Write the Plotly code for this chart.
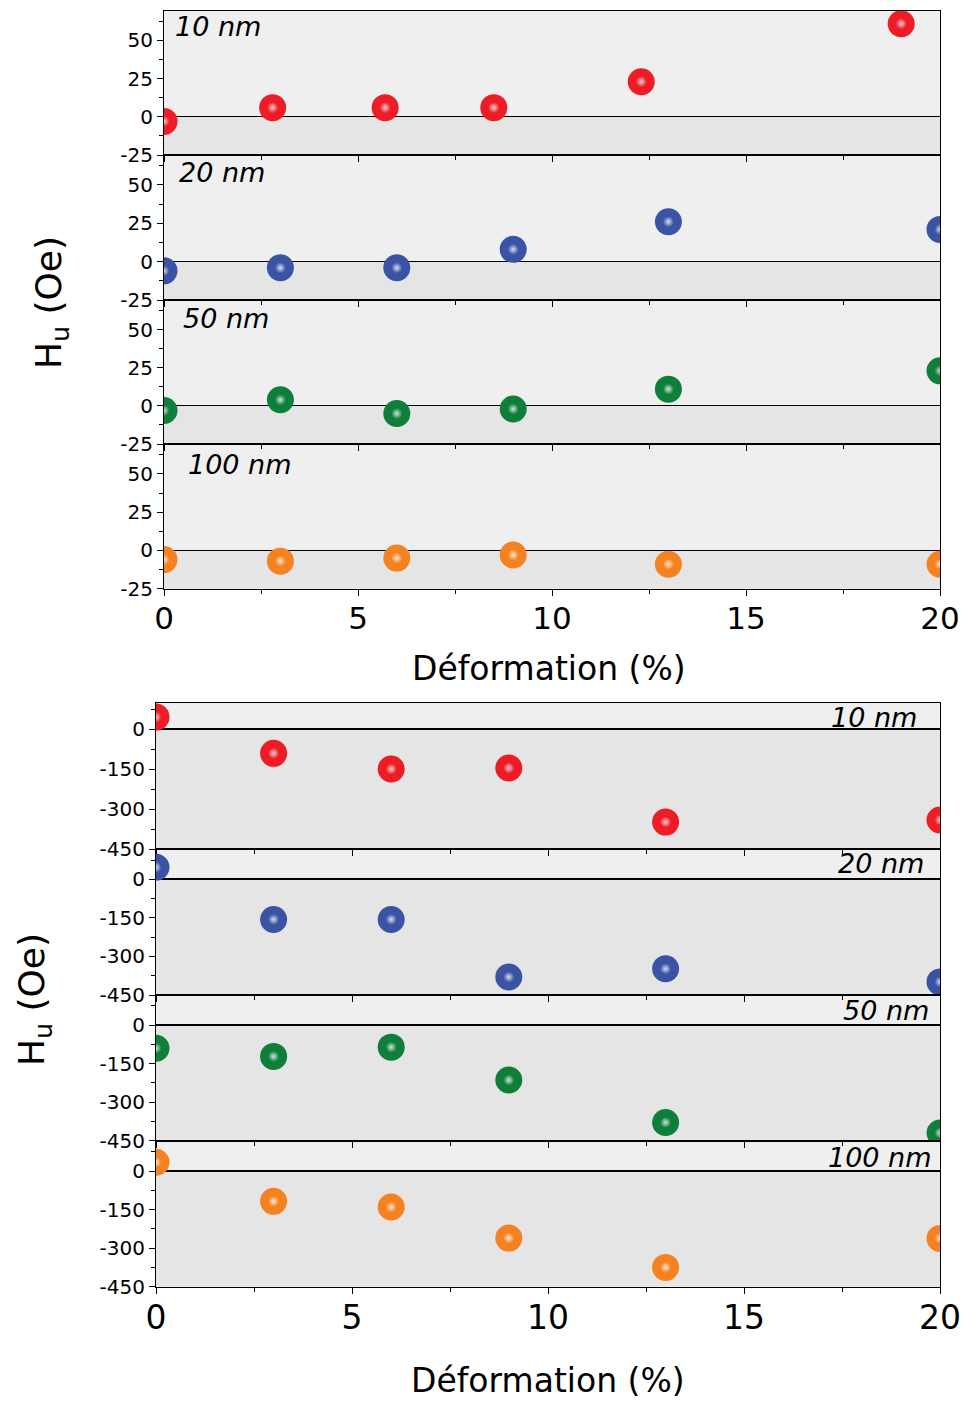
import plotly.graph_objects as go

W, H = 966, 1402

# ---------------- data ----------------
thickness_labels = ["10 nm", "20 nm", "50 nm", "100 nm"]
colors = ["#ee1c25", "#3a53a4", "#0e7f3b", "#f58220"]

strain_top_10 = [0, 2.8, 5.7, 8.5, 12.3, 19]
strain = [0, 3, 6, 9, 13, 20]

hu_top_10 = [-3, 6, 6, 6, 23, 61]
hu_top_20 = [-6, -4, -4, 8, 26, 21]
hu_top_50 = [-3, 4, -5, -2, 11, 23]
hu_top_100 = [-6, -7, -5, -3, -9, -9]

hu_bot_10 = [45, -91, -150, -146, -349, -341]
hu_bot_20 = [47, -156, -156, -380, -348, -399]
hu_bot_50 = [-90, -122, -86, -214, -379, -420]
hu_bot_100 = [34, -118, -140, -261, -375, -262]

top_ticks = [-25, 0, 25, 50]
top_ticktext = ["-25", "0", "25", "50"]
bot_ticks = [-450, -300, -150, 0]
bot_ticktext = ["-450", "-300", "-150", "0"]
x_ticks = [0, 5, 10, 15, 20]
x_ticktext = ["0", "5", "10", "15", "20"]

top_series = [(strain_top_10, hu_top_10), (strain, hu_top_20), (strain, hu_top_50), (strain, hu_top_100)]
bot_series = [(strain, hu_bot_10), (strain, hu_bot_20), (strain, hu_bot_50), (strain, hu_bot_100)]

# ---------------- layout geometry (pixels) ----------------
def px(xp):
    return xp / W

def py(yp):
    return 1 - yp / H

panels = [
    dict(series=top_series, xdom=(164, 940),
         rows=[(10.7, 155), (155, 300), (300, 444), (444, 588.7)],
         ranges=[[-25, 69.5]] * 4, ticks=top_ticks, ticktext=top_ticktext, minor=12.5,
         zw=1.2, tickfont=20, xfont=31,
         labels=[(173, 27, "left"), (177, 173, "left"), (181, 319, "left"), (186, 464, "left")]),
    dict(series=bot_series, xdom=(156, 940),
         rows=[(702.7, 849), (849, 995), (995, 1140.7), (1140.7, 1286.7)],
         ranges=[[-450, 99], [-450, 118], [-450, 117], [-450, 118]], ticks=bot_ticks,
         ticktext=bot_ticktext, minor=75,
         zw=2.2, tickfont=20, xfont=33,
         labels=[(919, 717, "right"), (926, 863, "right"), (931, 1010, "right"), (934, 1157, "right")]),
]

fig = go.Figure()
layout = dict(
    width=W, height=H,
    margin=dict(l=0, r=0, t=0, b=0, pad=0),
    paper_bgcolor="white",
    plot_bgcolor="#e5e5e5",
    showlegend=False,
    font=dict(family="DejaVu Sans", color="black"),
)
shapes = []
annotations = []

k = 0
for p in panels:
    for i, ((xs, ys), (y_top, y_bot)) in enumerate(zip(p["series"], p["rows"])):
        k += 1
        xa = "x" if k == 1 else f"x{k}"
        ya = "y" if k == 1 else f"y{k}"
        xkey = "xaxis" if k == 1 else f"xaxis{k}"
        ykey = "yaxis" if k == 1 else f"yaxis{k}"
        last = i == 3
        layout[xkey] = dict(
            domain=[px(p["xdom"][0]), px(p["xdom"][1])],
            anchor=ya, range=[0, 20],
            tickvals=x_ticks, ticktext=x_ticktext,
            ticks="outside", ticklen=6, tickwidth=1.2, tickcolor="black",
            minor=dict(dtick=2.5, tick0=0, ticks="outside", ticklen=4, tickwidth=1, tickcolor="black"),
            showticklabels=last, tickfont=dict(size=p["xfont"]), ticklabelstandoff=-4,
            showline=True, linecolor="black", linewidth=1.2, mirror=True,
            showgrid=False, zeroline=False, automargin=False,
        )
        layout[ykey] = dict(
            domain=[py(y_bot), py(y_top)],
            anchor=xa, range=p["ranges"][i],
            tickvals=p["ticks"], ticktext=p["ticktext"],
            ticks="outside", ticklen=6, tickwidth=1.2, tickcolor="black",
            minor=dict(dtick=p["minor"], tick0=0, ticks="outside", ticklen=4, tickwidth=1, tickcolor="black"),
            tickfont=dict(size=p["tickfont"]),
            showline=True, linecolor="black", linewidth=1.2, mirror=True,
            showgrid=False, zeroline=True, zerolinecolor="black", zerolinewidth=p["zw"],
            automargin=False,
        )
        # lighter band above zero
        shapes.append(dict(type="rect", xref=f"{xa} domain", yref=ya, x0=0, x1=1,
                           y0=0, y1=p["ranges"][i][1], fillcolor="#efefef",
                           line=dict(width=0), layer="below"))
        fig.add_trace(go.Scatter(
            x=xs, y=ys, xaxis=xa, yaxis=ya, mode="markers",
            marker=dict(size=27, color=colors[i], line=dict(width=0)),
            hoverinfo="x+y",
        ))
        fig.add_trace(go.Scatter(
            x=xs, y=ys, xaxis=xa, yaxis=ya, mode="markers",
            marker=dict(size=11, color=colors[i], line=dict(width=0),
                        gradient=dict(type="radial", color="white"), opacity=0.8),
            hoverinfo="skip",
        ))
        lx, ly, side = p["labels"][i]
        annotations.append(dict(
            text=f"<i>{thickness_labels[i]}</i>", xref="paper", yref="paper",
            x=px(lx), y=py(ly), xanchor=side, yanchor="middle", showarrow=False,
            font=dict(size=27, family="DejaVu Sans"),
        ))

# axis titles
annotations += [
    dict(text="Déformation (%)", xref="paper", yref="paper", x=px(549), y=py(668),
         xanchor="center", yanchor="middle", showarrow=False, font=dict(size=33)),
    dict(text="Déformation (%)", xref="paper", yref="paper", x=px(548), y=py(1380),
         xanchor="center", yanchor="middle", showarrow=False, font=dict(size=33)),
    dict(text="H<sub>u</sub> (Oe)", xref="paper", yref="paper", x=px(52), y=py(303),
         xanchor="center", yanchor="middle", textangle=-90, showarrow=False, font=dict(size=36)),
    dict(text="H<sub>u</sub> (Oe)", xref="paper", yref="paper", x=px(34), y=py(1000),
         xanchor="center", yanchor="middle", textangle=-90, showarrow=False, font=dict(size=36)),
]

layout["shapes"] = shapes
layout["annotations"] = annotations
fig.update_layout(**layout)
fig.write_html("out.html", config={"displayModeBar": False},
               post_script="document.body.style.margin='0';document.body.style.overflow='hidden';")
